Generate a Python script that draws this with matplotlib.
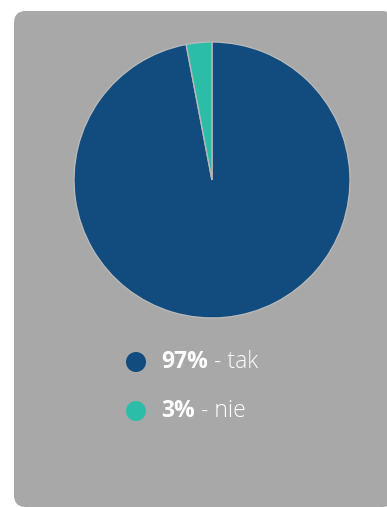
import matplotlib.pyplot as plt
from matplotlib.patches import FancyBboxPatch, Circle

labels = ["tak", "nie"]
values = [97, 3]
colors = ["#124b7d", "#2bbda7"]

W, H = 387, 507
fig = plt.figure(figsize=(W / 100, H / 100), dpi=100)
fig.patch.set_facecolor("white")

# background card (pixel coords)
bg = fig.add_axes([0, 0, 1, 1])
bg.set_xlim(0, W)
bg.set_ylim(H, 0)
bg.axis("off")
bg.add_patch(FancyBboxPatch((14 + 12, 11 + 12), 380 - 24, 496 - 24,
                            boxstyle="round,pad=12", fc="#a8a8a8", ec="none"))

# pie
cx, cy, r = 212, 180, 138
ax = fig.add_axes([(cx - r) / W, 1 - (cy + r) / H, 2 * r / W, 2 * r / H])
ax.pie(values, colors=colors, startangle=90, counterclock=False,
       wedgeprops=dict(edgecolor="#b8b8b8", linewidth=1))
ax.set_aspect("auto")
ax.set_xlim(-1, 1)
ax.set_ylim(-1, 1)

# legend
ys = [362, 411]
for lab, v, c, y in zip(labels, values, colors, ys):
    bg.add_patch(Circle((136, y), 10, fc=c, ec="none"))
    t = bg.text(161, y, f"{v}%", color="white", fontsize=16.5, fontweight="bold",
                family="Open Sans", va="center", ha="left")
    fig.canvas.draw()
    bb = t.get_window_extent()
    bg.text(bb.x1, y, f" - {lab}", color="white", fontsize=16.5,
            fontweight="light", family="Open Sans", va="center", ha="left")

fig.savefig("out.png", dpi=100)
